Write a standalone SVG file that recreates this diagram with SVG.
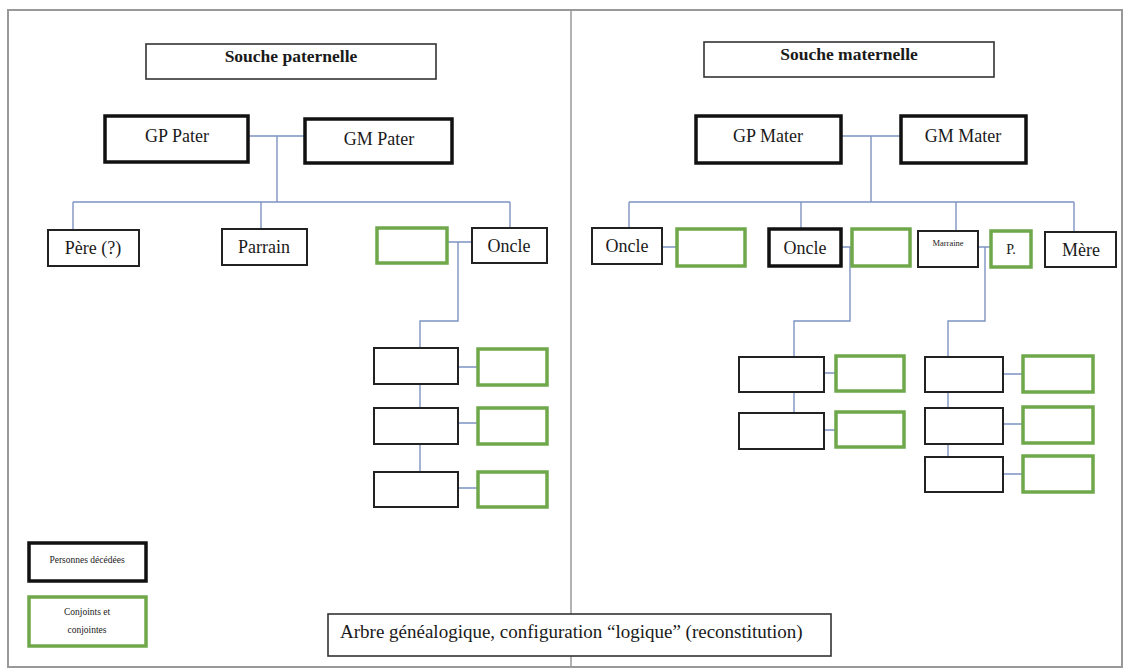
<svg xmlns="http://www.w3.org/2000/svg" width="1126" height="670" viewBox="0 0 1126 670">
<style>
text{font-family:"Liberation Serif","Times New Roman",serif;fill:#1a1a1a;text-anchor:middle}
.t{font-size:18px}
.h{font-size:17.5px;font-weight:bold}
.s{font-size:9.5px}
.box{fill:#fff;stroke:#222;stroke-width:2}
.dec{fill:#fff;stroke:#111;stroke-width:3.5}
.sp{fill:#fff;stroke:#6fa84a;stroke-width:3.5}
.ttl{fill:#fff;stroke:#333;stroke-width:1.6}
.c{fill:none;stroke:#7e93c2;stroke-width:1.4}
</style>
<rect x="8" y="10" width="1114" height="657" fill="#fff" stroke="#999" stroke-width="2"/>
<line x1="571" y1="10" x2="571" y2="667" stroke="#999" stroke-width="1.5"/>
<g id="connectors">
<path class="c" d="M248 136H305M277 136V202M73 202H510M73 202V230M261 202V229M510 202V228"/>
<path class="c" d="M447 242H472M458 242V321H420V348M420 384V408M420 444V472M458 367H478M458 423H478M458 488H478"/>
<path class="c" d="M841 136H901M871 136V202M629 202H1074M629 202V228M801 202V229M956 202V231M1074 202V232"/>
<path class="c" d="M662 247H677M841 247H852M850 247V321H794V357M794 392V413M824 373H836M824 430H836"/>
<path class="c" d="M978 247H991M985 247V321H948V357M948 392V408M948 444V457M1003 374H1023M1003 424H1023M1003 474H1023"/>
</g>
<g id="souche-paternelle"><rect class="ttl" x="146" y="44" width="290" height="35"/><text class="h" x="291" y="62">Souche paternelle</text></g>
<g id="gp-pater"><rect class="dec" x="105" y="116" width="143" height="46"/><text class="t" x="177" y="142">GP Pater</text></g>
<g id="gm-pater"><rect class="dec" x="305" y="119" width="147" height="44"/><text class="t" x="379" y="145">GM Pater</text></g>
<g id="pere"><rect class="box" x="48" y="230" width="91" height="36"/><text class="t" x="93" y="254">Père (?)</text></g>
<g id="parrain"><rect class="box" x="222" y="229" width="85" height="36"/><text class="t" x="264" y="253">Parrain</text></g>
<g id="conj-oncle-p"><rect class="sp" x="377" y="228" width="70" height="35"/></g>
<g id="oncle-p"><rect class="box" x="472" y="228" width="75" height="35"/><text class="t" x="509" y="252">Oncle</text></g>
<g id="p-enfant1"><rect class="box" x="374" y="348" width="84" height="36"/></g>
<g id="p-conj1"><rect class="sp" x="478" y="349" width="69" height="36"/></g>
<g id="p-enfant2"><rect class="box" x="374" y="408" width="84" height="36"/></g>
<g id="p-conj2"><rect class="sp" x="478" y="408" width="69" height="36"/></g>
<g id="p-enfant3"><rect class="box" x="374" y="472" width="84" height="35"/></g>
<g id="p-conj3"><rect class="sp" x="478" y="472" width="69" height="35"/></g>
<g id="souche-maternelle"><rect class="ttl" x="704" y="42" width="290" height="35"/><text class="h" x="849" y="60">Souche maternelle</text></g>
<g id="gp-mater"><rect class="dec" x="696" y="116" width="145" height="47"/><text class="t" x="768" y="142">GP Mater</text></g>
<g id="gm-mater"><rect class="dec" x="901" y="116" width="125" height="47"/><text class="t" x="963" y="142">GM Mater</text></g>
<g id="oncle-m1"><rect class="box" x="592" y="228" width="70" height="36"/><text class="t" x="627" y="252">Oncle</text></g>
<g id="conj-m1"><rect class="sp" x="677" y="229" width="68" height="37"/></g>
<g id="oncle-m2"><rect class="dec" x="769" y="229" width="72" height="37"/><text class="t" x="805" y="254">Oncle</text></g>
<g id="conj-m2"><rect class="sp" x="852" y="229" width="58" height="37"/></g>
<g id="marraine"><rect class="box" x="918" y="231" width="60" height="36"/><text class="s" x="948" y="246" style="font-size:8.5px">Marraine</text></g>
<g id="conj-marraine"><rect class="sp" x="991" y="231" width="40" height="36"/><text class="t" x="1011" y="254" style="font-size:14px">P.</text></g>
<g id="mere"><rect class="box" x="1045" y="232" width="71" height="35"/><text class="t" x="1081" y="256">Mère</text></g>
<g id="m2-enfant1"><rect class="box" x="739" y="357" width="85" height="35"/></g>
<g id="m2-conj1"><rect class="sp" x="836" y="356" width="68" height="35"/></g>
<g id="m2-enfant2"><rect class="box" x="739" y="413" width="85" height="36"/></g>
<g id="m2-conj2"><rect class="sp" x="836" y="412" width="68" height="35"/></g>
<g id="mr-enfant1"><rect class="box" x="925" y="357" width="78" height="35"/></g>
<g id="mr-conj1"><rect class="sp" x="1023" y="356" width="70" height="36"/></g>
<g id="mr-enfant2"><rect class="box" x="925" y="408" width="78" height="36"/></g>
<g id="mr-conj2"><rect class="sp" x="1023" y="407" width="70" height="36"/></g>
<g id="mr-enfant3"><rect class="box" x="925" y="457" width="78" height="35"/></g>
<g id="mr-conj3"><rect class="sp" x="1023" y="456" width="70" height="36"/></g>
<g id="legende-decedes"><rect class="dec" x="29" y="543" width="117" height="38"/><text class="s" x="87" y="563">Personnes décédées</text></g>
<g id="legende-conjoints"><rect class="sp" x="29" y="597" width="117" height="49"/><text class="s" x="87" y="615">Conjoints et</text><text class="s" x="87" y="633">conjointes</text></g>
<g id="legende-titre"><rect class="ttl" x="328" y="614" width="503" height="42"/><text class="t" x="340" y="638" style="text-anchor:start;font-size:19px">Arbre généalogique, configuration “logique” (reconstitution)</text></g>
</svg>
